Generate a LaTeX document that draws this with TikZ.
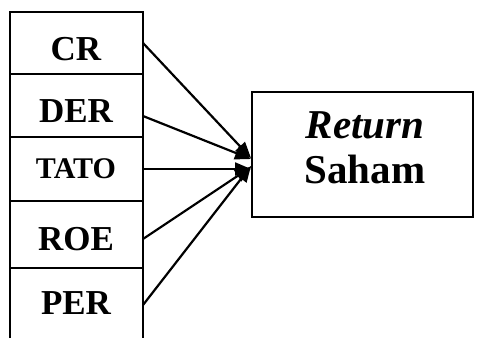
\documentclass[tikz,border=0pt]{standalone}
\usepackage{fontspec}
\setmainfont{Liberation Serif}
\usetikzlibrary{arrows.meta}
\begin{document}
\begin{tikzpicture}[x=1pt,y=-1pt,
  boxline/.style={line width=2pt},
  lbl/.style={font=\fontsize{35}{40}\selectfont\bfseries, inner sep=0pt},
  conn/.style={line width=2.2pt, -{Triangle[length=16pt,width=13pt]}}]
\useasboundingbox (0,0) rectangle (478,338);
% left column
\draw[boxline] (9.5,338) -- (9.5,12) -- (143,12) -- (143,338);
\draw[boxline] (9.5,74) -- (143,74);
\draw[boxline] (9.5,137) -- (143,137);
\draw[boxline] (9.5,201) -- (143,201);
\draw[boxline] (9.5,268) -- (143,268);
% labels
\node[lbl] (cr) at (76,49) {CR};
\node[lbl] (der) at (76,111) {DER};
\node[lbl, font=\fontsize{30}{36}\selectfont\bfseries] (tato) at (76,169) {TATO};
\node[lbl] (roe) at (76,239) {ROE};
\node[lbl] (per) at (76,303) {PER};
% connector start points on column edge
\coordinate (s1) at (143,43);
\coordinate (s2) at (143,116);
\coordinate (s3) at (143,169);
\coordinate (s4) at (143,239);
\coordinate (s5) at (143,305);
% right box
\node[draw, boxline, minimum width=221pt, minimum height=125pt, inner sep=0pt] (ret) at (362.5,154.5) {};
\node[font=\fontsize{41}{45}\selectfont\bfseries, align=center, inner sep=0pt] (rettxt) at (365,148)
  {\textit{Return}\\Saham};
% end points
\coordinate (e1) at (251,158);
\coordinate (e2) at (251,159);
\coordinate (e3) at (251,169);
\coordinate (e4) at (251,167);
\coordinate (e5) at (251,166);
\draw[conn] (s1) -- (e1);
\draw[conn] (s2) -- (e2);
\draw[conn] (s3) -- (e3);
\draw[conn] (s4) -- (e4);
\draw[conn] (s5) -- (e5);
\end{tikzpicture}
\end{document}
